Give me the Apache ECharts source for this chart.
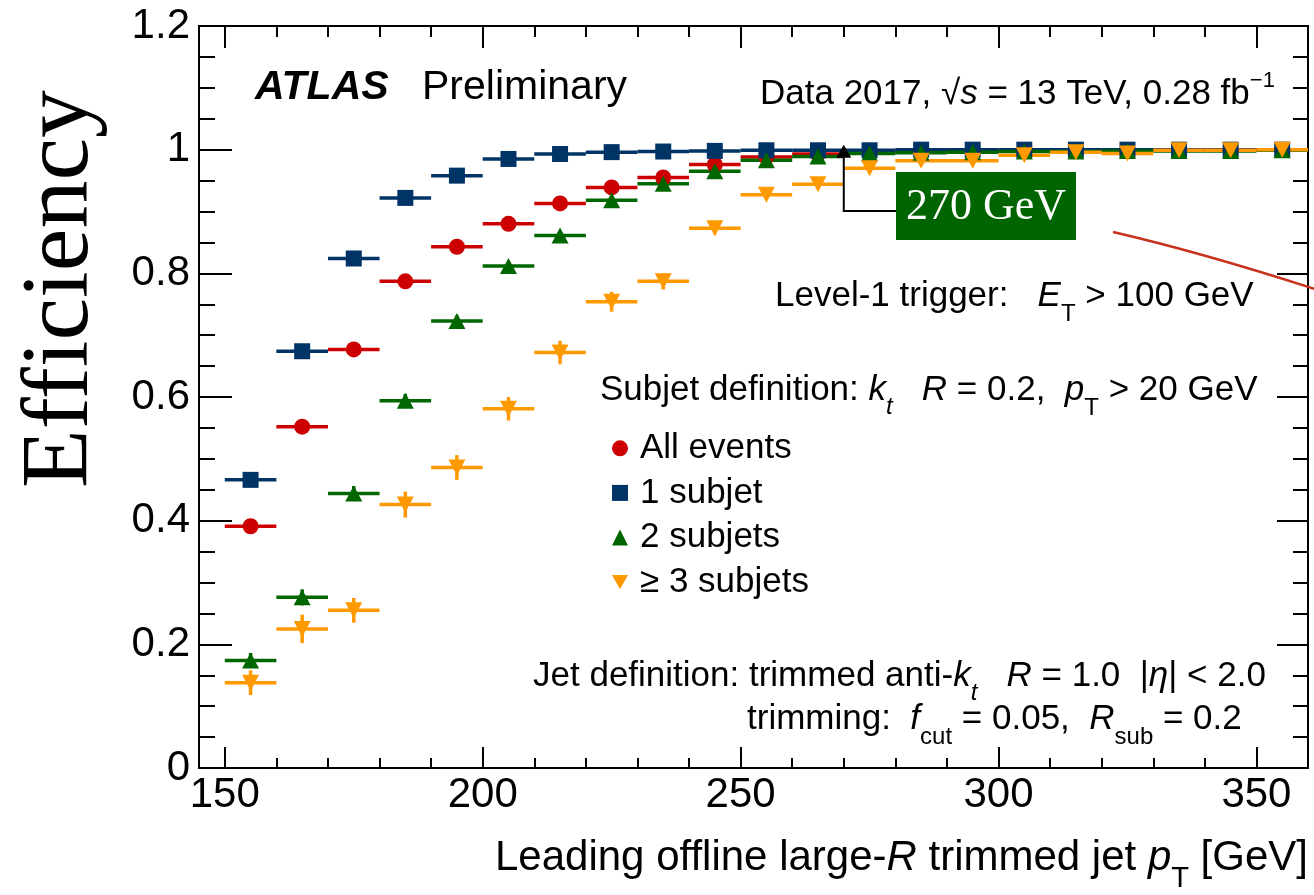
<!DOCTYPE html>
<html>
<head>
<meta charset="utf-8">
<script src="https://cdn.jsdelivr.net/npm/echarts@6/dist/echarts.min.js"></script>
<style>
html,body{margin:0;padding:0;background:#ffffff;}
#c{width:1314px;height:895px;}
</style>
</head>
<body>
<div id="c"></div>
<script>
// ---------------- DATA ----------------
const binCenters = [155,165,175,185,195,205,215,225,235,245,255,265,275,285,295,305,315,325,335,345,355];
const binLow     = [150,160,170,180,190,200,210,220,230,240,250,260,270,280,290,300,310,320,330,340,350];
const binHigh    = [160,170,180,190,200,210,220,230,240,250,260,270,280,290,300,310,320,330,340,350,360];

const seriesNames = ['All events', '1 subjet', '2 subjets', '\u2265 3 subjets'];

const allEvents    = [0.391,0.552,0.677,0.787,0.843,0.880,0.913,0.939,0.955,0.976,0.988,0.993,0.996,0.997,0.998,0.998,0.999,0.999,0.999,0.999,1.000];
const allEventsErr = [0.007,0.006,0.005,0.004,0.004,0.003,0.003,0.002,0.002,0.002,0.001,0.001,0.001,0.001,0.001,0.001,0.001,0.001,0.001,0.001,0.001];

const oneSubjet    = [0.466,0.674,0.824,0.922,0.958,0.985,0.993,0.996,0.997,0.998,0.999,0.999,0.999,1.000,1.000,1.000,1.000,1.000,1.000,1.000,1.000];
const oneSubjetErr = [0.010,0.008,0.006,0.004,0.003,0.002,0.001,0.001,0.001,0.001,0.001,0.001,0.001,0.001,0.001,0.001,0.001,0.001,0.001,0.001,0.001];

const twoSubjets    = [0.174,0.276,0.444,0.594,0.723,0.812,0.861,0.918,0.945,0.965,0.983,0.989,0.994,0.995,0.996,0.997,0.997,0.998,0.998,0.998,0.999];
const twoSubjetsErr = [0.012,0.013,0.012,0.011,0.009,0.007,0.006,0.005,0.004,0.003,0.002,0.002,0.001,0.001,0.001,0.001,0.001,0.001,0.001,0.001,0.001];

const threeSubjets    = [0.138,0.225,0.255,0.426,0.486,0.581,0.672,0.754,0.787,0.873,0.927,0.944,0.970,0.982,0.982,0.991,0.996,0.994,0.999,0.999,1.000];
const threeSubjetsErr = [0.020,0.023,0.020,0.021,0.020,0.019,0.019,0.016,0.013,0.010,0.007,0.006,0.004,0.003,0.003,0.002,0.002,0.002,0.001,0.001,0.001];

const xTickValues = [150,200,250,300,350];
const xTickLabels = ['150','200','250','300','350'];
const xMinorTickValues = [150,160,170,180,190,200,210,220,230,240,250,260,270,280,290,300,310,320,330,340,350,360];
const yTickLabels = ['0','0.2','0.4','0.6','0.8','1','1.2'];
const thresholdGeV = 270;
const thresholdLabel = '270 GeV';

// ---------------- STYLE ----------------
const FONT = '"Liberation Sans", Arial, Helvetica, sans-serif';
const SERIF = '"Liberation Serif", "Times New Roman", serif';
const C_RED = '#cc0000', C_BLUE = '#003366', C_GREEN = '#006600', C_ORANGE = '#ff9900';
const DOWN_TRI = 'path://M0,0L20,0L10,18Z';

const chart = echarts.init(document.getElementById('c'), null, {renderer:'canvas', width:1314, height:895});

function errSeries(name, vals, errs, color) {
  return {
    type: 'custom', name: name + ' err', xAxisIndex: 0, yAxisIndex: 0,
    silent: true, animation: false,
    data: binCenters.map((x, i) => [x, vals[i], errs[i], binLow[i], binHigh[i]]),
    encode: {x: 0, y: 1},
    renderItem: function (params, api) {
      const x = api.value(0), y = api.value(1), e = api.value(2), lo = api.value(3), hi = api.value(4);
      const a = api.coord([lo, y]), b = api.coord([hi, y]);
      const c = api.coord([x, y - e]), d = api.coord([x, y + e]);
      return {type: 'group', children: [
        {type: 'line', shape: {x1: a[0], y1: a[1], x2: b[0], y2: b[1]}, style: {stroke: color, lineWidth: 3.5}},
        {type: 'line', shape: {x1: c[0], y1: c[1], x2: d[0], y2: d[1]}, style: {stroke: color, lineWidth: 3.5}}
      ]};
    }
  };
}
function markerSeries(name, vals, symbol, size, color) {
  return {
    type: 'scatter', name: name, xAxisIndex: 0, yAxisIndex: 0,
    data: binCenters.map((x, i) => [x, vals[i]]),
    symbol: symbol, symbolSize: size,
    itemStyle: {color: color, opacity: 1},
    silent: true, animation: false, emphasis: {disabled: true}
  };
}

const tickStyle = {color: '#000', width: 2};
function xAx(pos, len, vals, labels) {
  return {
    type: 'value', position: pos, min: 145, max: 360, gridIndex: 0,
    axisLine: {show: true, onZero: false, lineStyle: {color: '#000', width: 2}},
    axisTick: {show: true, inside: true, length: len, customValues: vals, lineStyle: tickStyle},
    axisLabel: labels ? {show: true, customValues: xTickValues, color: '#000', fontSize: 42, fontFamily: FONT, margin: 6,
      formatter: v => xTickLabels[xTickValues.indexOf(v)]} : {show: false},
    splitLine: {show: false}, minorTick: {show: false}
  };
}
function yAx(pos, len, minorLen, labels) {
  return {
    type: 'value', position: pos, min: 0, max: 1.2, interval: 0.2, gridIndex: 0,
    axisLine: {show: true, onZero: false, lineStyle: {color: '#000', width: 2}},
    axisTick: {show: true, inside: true, length: len, lineStyle: tickStyle},
    minorTick: {show: true, splitNumber: 4, length: minorLen, lineStyle: tickStyle},
    axisLabel: labels ? {show: true, color: '#000', fontSize: 42, fontFamily: FONT, margin: 9,
      showMinLabel: true, showMaxLabel: true,
      formatter: (v, i) => yTickLabels[Math.round(v / 0.2)]} : {show: false},
    splitLine: {show: false}, minorSplitLine: {show: false}
  };
}

chart.setOption({
  animation: false,
  backgroundColor: '#ffffff',
  grid: {left: 199, right: 6, top: 26, bottom: 127, containLabel: false, outerBoundsMode: 'none'},
  xAxis: [
    xAx('bottom', 21, xTickValues, true),
    xAx('bottom', 10, xMinorTickValues, false),
    xAx('top', 22, xTickValues, false),
    xAx('top', 11, xMinorTickValues, false)
  ],
  yAxis: [
    yAx('left', 33, 16, true),
    yAx('right', 31, 15, false)
  ],
  legend: {
    orient: 'vertical', left: 612, top: 426, padding: 0, itemGap: 0,
    itemWidth: 16, itemHeight: 16, selectedMode: false,
    data: seriesNames,
    formatter: name => '{t|' + name + '}',
    textStyle: {color: '#000', fontSize: 35, fontFamily: FONT, lineHeight: 44.6,
      rich: {t: {color: '#000', fontSize: 35, fontFamily: FONT, lineHeight: 44.6, padding: [0, 0, 0, 7]}}}
  },
  series: [
    errSeries(seriesNames[0], allEvents, allEventsErr, C_RED),
    markerSeries(seriesNames[0], allEvents, 'circle', 16, C_RED),
    errSeries(seriesNames[1], oneSubjet, oneSubjetErr, C_BLUE),
    markerSeries(seriesNames[1], oneSubjet, 'rect', 16, C_BLUE),
    errSeries(seriesNames[2], twoSubjets, twoSubjetsErr, C_GREEN),
    markerSeries(seriesNames[2], twoSubjets, 'triangle', [17, 16], C_GREEN),
    errSeries(seriesNames[3], threeSubjets, threeSubjetsErr, C_ORANGE),
    markerSeries(seriesNames[3], threeSubjets, DOWN_TRI, [17, 16], C_ORANGE)
  ]
});

// ---------------- ANNOTATIONS ----------------
const SUB = {fontSize: 24, fontFamily: FONT, padding: [36, 0, 0, 0], verticalAlign: 'middle'};
const SUBI = {fontSize: 24, fontFamily: FONT, fontStyle: 'italic', padding: [34, 0, 0, 0], verticalAlign: 'middle'};
const SUP = {fontSize: 22, fontFamily: FONT, padding: [0, 0, 26, 0], verticalAlign: 'middle'};
const IT = {fontSize: 35, fontFamily: FONT, fontStyle: 'italic', verticalAlign: 'middle'};
const IT42 = {fontSize: 42, fontFamily: FONT, fontStyle: 'italic', verticalAlign: 'middle'};
const SUB42 = {fontSize: 29, fontFamily: FONT, padding: [42, 0, 0, 0], verticalAlign: 'middle'};

function txt(x, y, text, opts) {
  opts = opts || {};
  return {
    type: 'text', x: x, y: y, z: 100, silent: true, rotation: opts.rotation || 0,
    style: Object.assign({
      text: text, fill: '#000', fontSize: 35, fontFamily: FONT,
      align: opts.align || 'left', verticalAlign: 'middle',
      textAlign: opts.align || 'left', textVerticalAlign: 'middle'
    }, opts.style || {})
  };
}

const tip = chart.convertToPixel({xAxisIndex: 0, yAxisIndex: 0}, [thresholdGeV, 1.0]);
const ax = tip[0], ay = tip[1] - 5;
const boxX = 896, boxY = 172, boxW = 180, boxH = 68;

const graphics = [
  txt(62, 289, 'Efficiency', {rotation: Math.PI / 2, align: 'center', style: {fontSize: 96, fontFamily: SERIF}}),
  txt(255, 88, 'ATLAS', {style: {fontSize: 41, fontWeight: 'bold', fontStyle: 'italic'}}),
  txt(422, 88, 'Preliminary', {style: {fontSize: 41}}),
  txt(760, 94, 'Data 2017, \u221A{i|s} = 13 TeV, 0.28 fb{sup|\u22121}', {style: {rich: {i: IT, sup: SUP}}}),
  txt(775, 296, 'Level-1 trigger:   {i|E}{sub|T} > 100 GeV', {style: {rich: {i: IT, sub: SUB}}}),
  txt(600, 390, 'Subjet definition: {i|k}{subi|t}   {i|R} = 0.2,  {i|p}{sub|T} > 20 GeV', {style: {rich: {i: IT, sub: SUB, subi: SUBI}}}),
  txt(533, 676, 'Jet definition: trimmed anti-{i|k}{subi|t}   {i|R} = 1.0  |{i|\u03B7}| < 2.0', {style: {rich: {i: IT, subi: SUBI}}}),
  txt(747, 719, 'trimming:  {i|f}{sub|cut} = 0.05,  {i|R}{sub|sub} = 0.2', {style: {rich: {i: IT, sub: SUB}}}),
  txt(1308, 858, 'Leading offline large-{i|R} trimmed jet {i|p}{sub|T} [GeV]', {align: 'right', style: {fontSize: 42, rich: {i: IT42, sub: SUB42}}}),
  // threshold annotation
  {type: 'polyline', z: 100, silent: true, shape: {points: [[ax, ay + 12], [ax, 211], [boxX, 211]]}, style: {stroke: '#000', lineWidth: 2, fill: null}},
  {type: 'polygon', z: 100, silent: true, shape: {points: [[ax - 7.5, ay + 13], [ax + 7.5, ay + 13], [ax, ay]]}, style: {fill: '#000'}},
  {type: 'rect', z: 100, silent: true, shape: {x: boxX, y: boxY, width: boxW, height: boxH}, style: {fill: '#006400'}},
  txt(boxX + boxW / 2, boxY + boxH / 2 + 1, thresholdLabel, {align: 'center', style: {fill: '#ffffff', fontSize: 44, fontFamily: SERIF}}),
  // red connector curve
  {type: 'bezierCurve', z: 100, silent: true, shape: {x1: 1113, y1: 232, cpx1: 1200, cpy1: 252, x2: 1318, y2: 290}, style: {stroke: '#c8311c', lineWidth: 2.5, fill: null}}
];
chart.setOption({graphic: graphics});
</script>
</body>
</html>
